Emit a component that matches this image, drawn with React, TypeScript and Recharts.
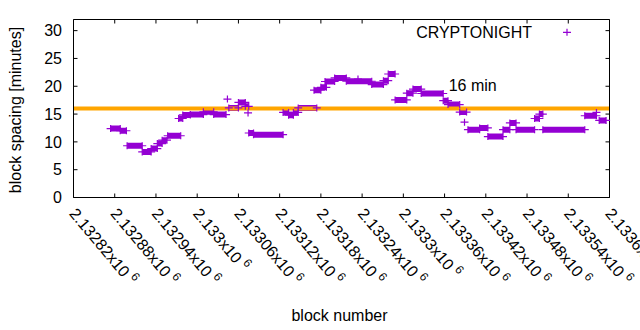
import { LineChart, Line, XAxis, YAxis, ReferenceLine, ReferenceDot, Legend } from 'recharts';

// runs of (almost) constant block spacing
const runStart = [
  2132874, 2132888, 2132898, 2132920, 2132933, 2132942, 2132949, 2132957, 2132973, 2132979,
  2132990, 2133009, 2133024, 2133044, 2133046, 2133060, 2133070, 2133074, 2133075, 2133082,
  2133125, 2133133, 2133140, 2133147, 2133170, 2133180, 2133186, 2133200, 2133217, 2133234,
  2133254, 2133271, 2133278, 2133288, 2133305, 2133314, 2133326, 2133358, 2133365, 2133382,
  2133389, 2133394, 2133411, 2133423, 2133445, 2133455, 2133464, 2133491, 2133498, 2133503,
  2133564, 2133581, 2133585,
];
const runEnd = [
  2132888, 2132897, 2132920, 2132933, 2132942, 2132949, 2132956, 2132976, 2132979, 2132990,
  2133009, 2133024, 2133042, 2133044, 2133060, 2133070, 2133075, 2133074, 2133082, 2133125,
  2133133, 2133140, 2133147, 2133174, 2133180, 2133188, 2133200, 2133217, 2133254, 2133234,
  2133271, 2133278, 2133288, 2133305, 2133314, 2133326, 2133358, 2133365, 2133382, 2133392,
  2133389, 2133411, 2133423, 2133445, 2133455, 2133464, 2133491, 2133498, 2133503, 2133564,
  2133581, 2133581, 2133595,
];
const runValue = [
  12.4, 12.0, 9.3, 8.2, 8.8, 9.7, 10.3, 11.1, 14.2, 14.85,
  14.9, 15.4, 14.9, 17.7, 16.1, 17.1, 16.4, 15.2, 11.6, 11.3,
  15.3, 14.8, 15.3, 16.1, 19.3, 19.8, 20.85, 21.5, 20.9, 21.3,
  20.3, 21.0, 22.2, 17.55, 18.75, 19.5, 18.7, 17.4, 16.7, 15.35,
  13.55, 12.2, 12.5, 10.95, 12.2, 13.4, 12.2, 14.2, 15.0, 12.2,
  14.7, 15.3, 13.85,
];

const xTicks = [
  2132820, 2132880, 2132940, 2133000, 2133060, 2133120, 2133180,
  2133240, 2133300, 2133360, 2133420, 2133480, 2133540, 2133600,
];
const xTickLabels = [
  '2.13282', '2.13288', '2.13294', '2.133', '2.13306', '2.13312', '2.13318',
  '2.13324', '2.1333', '2.13336', '2.13342', '2.13348', '2.13354', '2.1336',
];
const yTicks = [0, 5, 10, 15, 20, 25, 30];
const threshold = 16;
const seriesName = 'CRYPTONIGHT';

const PURPLE = '#9400d3';
const ORANGE = '#ffa500';
const FONT = '"Liberation Sans", Arial, sans-serif';

const data: { block: number; spacing: number | null }[] = [];
runStart.forEach((s, i) => {
  data.push({ block: s, spacing: runValue[i] });
  if (runEnd[i] !== s) data.push({ block: runEnd[i], spacing: runValue[i] });
  data.push({ block: runEnd[i], spacing: null });
});

const PlusDot = (props: any) => {
  const { cx, cy, index, payload } = props;
  if (cx == null || cy == null || payload == null || payload.spacing == null) {
    return <g key={`p${index}`} />;
  }
  return (
    <path
      key={`p${index}`}
      d={`M${cx - 4},${cy}H${cx + 4}M${cx},${cy - 3.5}V${cy + 3.5}`}
      stroke={PURPLE}
      strokeWidth={1.2}
      fill="none"
    />
  );
};

const XTick = (props: any) => {
  const { x, payload } = props;
  const i = xTicks.indexOf(payload.value);
  return (
    <text
      transform={`translate(${x - 5},214) rotate(50)`}
      fontSize={16}
      fontFamily={FONT}
      fill="#000"
    >
      {xTickLabels[i]}x10
      <tspan dx={4} dy={-7} fontSize={12}>6</tspan>
    </text>
  );
};

const NoTick = () => <g />;

const renderLegend = () => (
  <svg width={200} height={30} style={{ display: 'block' }}>
    <text x={132} y={17.7} textAnchor="end" fontSize={16} fontFamily={FONT} fill="#000">
      {seriesName}
    </text>
    <path d="M163,12.3H171M167,8.8V15.8" stroke={PURPLE} strokeWidth={1.2} />
  </svg>
);

const App = () => {
  return (
    <div style={{ position: 'absolute', left: 0, top: 0, background: '#fff' }}>
      <LineChart
        width={640}
        height={330}
        data={data}
        margin={{ top: 18.5, right: 29.5, left: 0.5, bottom: 0 }}
      >
        <XAxis
          dataKey="block"
          type="number"
          domain={[2132820, 2133600]}
          ticks={xTicks}
          interval={0}
          height={132.5}
          tickSize={-4}
          tickMargin={20}
          tick={<XTick />}
          stroke="#000"
          tickLine={{ stroke: '#000' }}
          axisLine={{ stroke: '#000' }}
          label={{
            content: (p: any) => {
              const vb = p.viewBox;
              return (
                <text
                  x={vb.x + vb.width / 2 - 2}
                  y={321}
                  textAnchor="middle"
                  fontSize={16}
                  fontFamily={FONT}
                  fill="#000"
                >
                  block number
                </text>
              );
            },
          }}
        />
        <XAxis
          xAxisId="top"
          dataKey="block"
          orientation="top"
          type="number"
          domain={[2132820, 2133600]}
          ticks={xTicks}
          interval={0}
          height={1}
          tickSize={-4}
          tick={<NoTick />}
          stroke="#000"
          tickLine={{ stroke: '#000' }}
          axisLine={{ stroke: '#000' }}
        />
        <YAxis
          type="number"
          domain={[0, 32]}
          ticks={yTicks}
          interval={0}
          width={73}
          tickSize={-4}
          tickMargin={15.5}
          stroke="#000"
          tickLine={{ stroke: '#000' }}
          axisLine={{ stroke: '#000' }}
          tick={{ fontSize: 16, fontFamily: FONT, fill: '#000' }}
          label={{
            content: () => (
              <text
                x={21}
                y={110}
                transform="rotate(-90 21 110)"
                textAnchor="middle"
                fontSize={16}
                fontFamily={FONT}
                fill="#000"
              >
                block spacing [minutes]
              </text>
            ),
          }}
        />
        <YAxis
          yAxisId="right"
          orientation="right"
          type="number"
          domain={[0, 32]}
          ticks={yTicks}
          interval={0}
          width={1}
          tickSize={-4}
          tick={<NoTick />}
          stroke="#000"
          tickLine={{ stroke: '#000' }}
          axisLine={{ stroke: '#000' }}
        />
        <Legend
          layout="horizontal"
          verticalAlign="middle"
          align="center"
          content={renderLegend}
          wrapperStyle={{ position: 'absolute', top: 20, left: 400, width: 200, height: 30 }}
        />
        {/* invisible copy so the mirrored top/right axes get drawn */}
        <Line
          xAxisId="top"
          yAxisId="right"
          dataKey="spacing"
          stroke="none"
          dot={false}
          activeDot={false}
          legendType="none"
          isAnimationActive={false}
        />
        <Line
          dataKey="spacing"
          type="linear"
          stroke={PURPLE}
          strokeWidth={6}
          strokeLinecap="butt"
          dot={PlusDot}
          activeDot={false}
          connectNulls={false}
          isAnimationActive={false}
        />
        <ReferenceLine y={threshold} stroke={ORANGE} strokeWidth={4} />
        <ReferenceDot
          x={2133366}
          y={19.06}
          r={0}
          stroke="none"
          fill="none"
          label={{
            content: (p: any) => (
              <text
                x={p.viewBox.x}
                y={p.viewBox.y}
                fontSize={16}
                fontFamily={FONT}
                fill="#000"
              >
                16 min
              </text>
            ),
          }}
        />
      </LineChart>
    </div>
  );
};

export default App;
